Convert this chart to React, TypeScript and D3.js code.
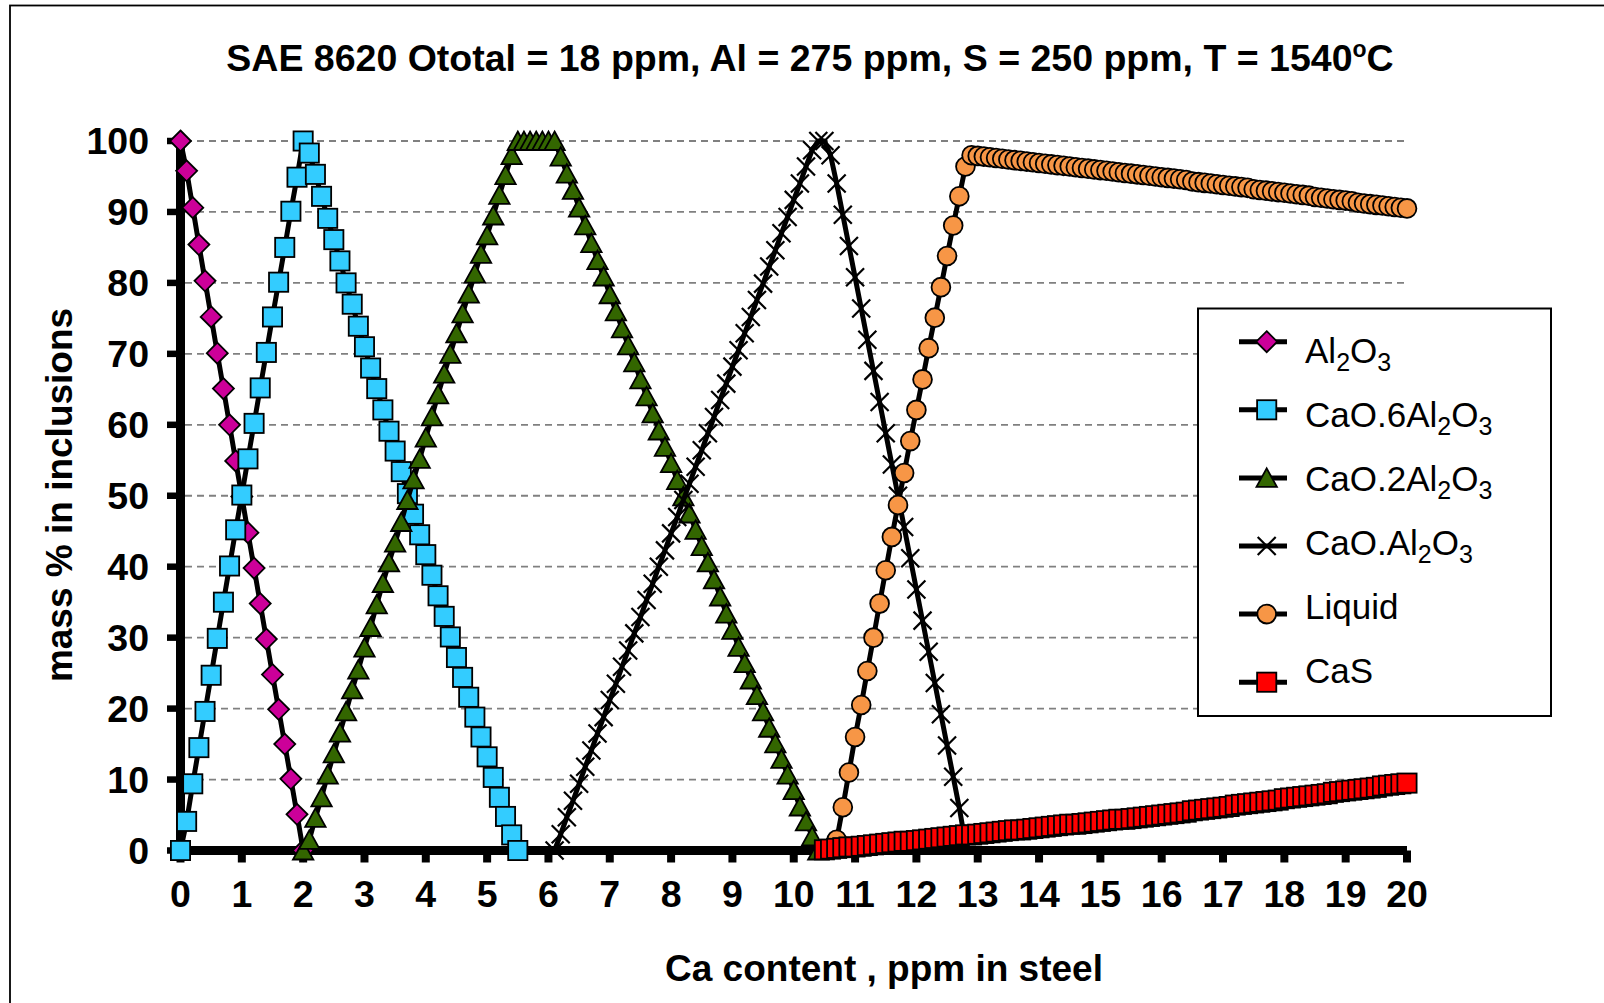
import React from 'react';
import * as d3 from 'd3';

// Ca content (ppm) steps by 0.1 for every series; each series starts at its own x
const STEP = 0.1;

const al2o3Start = 0;
const al2o3 = [100, 95.8, 90.6, 85.4, 80.3, 75.2, 70.1, 65.1, 60.0, 54.9, 49.9, 44.8, 39.8, 34.8, 29.8, 24.8, 19.9, 15.0, 10.1, 5.1, 0];

const ca6Start = 0;
const ca6 = [0, 4.1, 9.4, 14.5, 19.6, 24.7, 29.9, 35.0, 40.1, 45.2, 50.1, 55.2, 60.2, 65.2, 70.2, 75.2, 80.1, 85.0, 90.1, 94.9, 100,
  98.3, 95.3, 92.2, 89.1, 86.1, 83.1, 80.0, 77.0, 73.9, 71.0, 68.0, 65.1, 62.1, 59.1, 56.3, 53.4, 50.3, 47.4, 44.5, 41.7,
  38.8, 35.9, 33.0, 30.1, 27.2, 24.4, 21.6, 18.8, 16.0, 13.2, 10.3, 7.5, 4.8, 2.2, 0];

const ca2Start = 2.0;
const ca2 = [0, 1.5, 4.6, 7.5, 10.7, 13.7, 16.6, 19.6, 22.7, 25.5, 28.6, 31.5, 34.7, 37.7, 40.6, 43.4, 46.3, 49.4, 52.3, 55.2,
  58.2, 61.2, 64.3, 67.2, 70.0, 72.9, 75.7, 78.5, 81.3, 84.1, 86.7, 89.5, 92.4, 95.2, 98.0,
  100, 100, 100, 100, 100, 100, 100,
  97.8, 95.4, 93.1, 90.6, 88.1, 85.6, 83.2, 80.9, 78.4, 76.0, 73.6, 71.2, 68.8, 66.4, 64.0, 61.6, 59.2, 56.9, 54.6, 52.2,
  49.9, 47.5, 45.2, 42.9, 40.6, 38.2, 35.8, 33.4, 31.1, 28.7, 26.4, 24.1, 21.9, 19.6, 17.3, 15.1, 12.9, 10.7, 8.5, 6.2, 4.1, 2.0, 0];

const ca1Start = 6.1;
const ca1 = [0, 2.3, 4.7, 7.0, 9.4, 11.8, 14.1, 16.5, 18.8, 21.2, 23.5, 25.9, 28.2, 30.6, 32.9, 35.3, 37.6, 40.0, 42.3, 44.7,
  47.0, 49.4, 51.7, 54.1, 56.4, 58.8, 61.1, 63.5, 65.8, 68.2, 70.5, 72.9, 75.2, 77.6, 79.9, 82.3, 84.6, 87.0, 89.3, 91.7,
  94.0, 96.4, 98.7, 100, 100, 98.0, 94.0, 89.6, 85.2, 80.8, 76.4, 72.0, 67.6, 63.2, 58.8, 54.4, 50.0, 45.6, 41.2, 36.8,
  32.4, 28.0, 23.6, 19.2, 14.8, 10.4, 6.0, 1.0];

const liquidStart = 10.7;
const liquid = [1.5, 6.1, 11.0, 16.0, 20.5, 25.3, 30.0, 34.8, 39.5, 44.2, 48.7, 53.2, 57.7, 62.1, 66.4, 70.8, 75.1, 79.4, 83.8,
  88.1, 92.2, 96.4, 98.0,
  97.9, 97.8, 97.7, 97.6, 97.5, 97.4, 97.3, 97.2, 97.1, 97.0, 96.9, 96.8, 96.7, 96.6, 96.5, 96.4, 96.3, 96.2, 96.1, 96.0,
  95.9, 95.8, 95.7, 95.6, 95.5, 95.4, 95.3, 95.2, 95.1, 95.0, 94.9,
  94.8, 94.7, 94.6, 94.5, 94.3, 94.2, 94.1, 94.0, 93.9, 93.8, 93.7, 93.6, 93.5, 93.4, 93.2, 93.1, 93.0, 92.9, 92.8, 92.7,
  92.6, 92.5, 92.4, 92.3, 92.1, 92.0, 91.9, 91.8, 91.7, 91.6, 91.5, 91.3, 91.2, 91.1, 91.0, 90.9, 90.8, 90.7, 90.6, 90.5];

const casStart = 10.5;
const cas = [0.1, 0.2, 0.3, 0.4, 0.5, 0.5, 0.6, 0.7, 0.8, 0.9, 1.0, 1.1, 1.2, 1.3, 1.3, 1.4, 1.5, 1.6, 1.7, 1.8, 1.9, 2.0,
  2.1, 2.2, 2.2, 2.3,
  2.4, 2.5, 2.6, 2.7, 2.8, 2.9, 2.9, 3.0, 3.1, 3.2, 3.3, 3.4, 3.5, 3.6, 3.7, 3.7, 3.8, 3.9, 4.0, 4.1, 4.2, 4.3, 4.4, 4.4,
  4.5, 4.6, 4.7, 4.8, 4.9, 5.0,
  5.1, 5.2, 5.3, 5.4, 5.6, 5.7, 5.8, 5.9, 6.0, 6.1, 6.2, 6.4, 6.5, 6.6, 6.7, 6.8, 6.9, 7.0, 7.1, 7.3, 7.4, 7.5, 7.6, 7.7,
  7.8, 7.9, 8.0, 8.2, 8.3, 8.4, 8.5, 8.6, 8.7, 8.8, 8.9, 9.1, 9.2, 9.3, 9.4, 9.5];

const xTicks = d3.range(0, 21);
const yTicks = d3.range(0, 101, 10);

type Marker = 'diamond' | 'square' | 'triangle' | 'cross' | 'circle';

const series: { name: string[]; start: number; values: number[]; marker: Marker; fill: string }[] = [
  { name: ['Al', '2', 'O', '3'], start: al2o3Start, values: al2o3, marker: 'diamond', fill: '#CC0099' },
  { name: ['CaO.6Al', '2', 'O', '3'], start: ca6Start, values: ca6, marker: 'square', fill: '#33CCFF' },
  { name: ['CaO.2Al', '2', 'O', '3'], start: ca2Start, values: ca2, marker: 'triangle', fill: '#336600' },
  { name: ['CaO.Al', '2', 'O', '3'], start: ca1Start, values: ca1, marker: 'cross', fill: 'none' },
  { name: ['Liquid'], start: liquidStart, values: liquid, marker: 'circle', fill: '#F79646' },
  { name: ['CaS'], start: casStart, values: cas, marker: 'square', fill: '#FF0000' },
];

const FONT = '"Liberation Sans", Arial, Helvetica, sans-serif';

function MarkerShape({ type, cx, cy, fill }: { type: Marker; cx: number; cy: number; fill: string }) {
  const sw = 1.8;
  if (type === 'diamond') {
    return <path d={`M${cx},${cy - 10.5}L${cx + 10.5},${cy}L${cx},${cy + 10.5}L${cx - 10.5},${cy}Z`} fill={fill} stroke="#000" strokeWidth={sw} />;
  }
  if (type === 'square') {
    return <rect x={cx - 9.6} y={cy - 9.6} width={19.2} height={19.2} fill={fill} stroke="#000" strokeWidth={sw} />;
  }
  if (type === 'triangle') {
    return <path d={`M${cx},${cy - 9.5}L${cx + 10.2},${cy + 9}L${cx - 10.2},${cy + 9}Z`} fill={fill} stroke="#000" strokeWidth={sw} />;
  }
  if (type === 'cross') {
    return <path d={`M${cx - 9},${cy - 9}L${cx + 9},${cy + 9}M${cx - 9},${cy + 9}L${cx + 9},${cy - 9}`} fill="none" stroke="#000" strokeWidth={2.2} />;
  }
  return <circle cx={cx} cy={cy} r={9.4} fill={fill} stroke="#000" strokeWidth={sw} />;
}

export default function App() {
  const x = d3.scaleLinear().domain([0, 20]).range([180.5, 1407]);
  const y = d3.scaleLinear().domain([0, 100]).range([850.5, 141]);

  const line = d3.line<[number, number]>()
    .x(d => x(d[0]))
    .y(d => y(d[1]));

  const pts = (s: { start: number; values: number[] }) =>
    s.values.map((v, i) => [s.start + i * STEP, v] as [number, number]);

  const legendX = 1198;
  const legendY = 308.5;

  return (
    <svg width={1604} height={1003} style={{ position: 'absolute', left: 0, top: 0, display: 'block', background: '#fff' }}
      fontFamily={FONT}>
      <rect x={10} y={5.5} width={1610} height={1020} fill="#fff" stroke="#000" strokeWidth={1.8} />

      <text x={810} y={71} textAnchor="middle" fontSize={37.5} fontWeight="bold">
        SAE 8620 Ototal = 18 ppm, Al = 275 ppm, S = 250 ppm, T = 1540
        <tspan fontSize={23} dy={-14}>o</tspan>
        <tspan dy={14}>C</tspan>
      </text>

      {/* gridlines */}
      {yTicks.filter(t => t > 0).map(t => (
        <line key={t} x1={185} x2={x(20)} y1={y(t)} y2={y(t)} stroke="#808080" strokeWidth={1.8} strokeDasharray="7,5" />
      ))}

      {/* axes */}
      <line x1={x(0)} x2={x(0)} y1={y(100)} y2={y(0) + 4} stroke="#000" strokeWidth={9} />
      <line x1={x(0) - 4} x2={x(20)} y1={y(0)} y2={y(0)} stroke="#000" strokeWidth={9} />
      {yTicks.map(t => (
        <line key={t} x1={167} x2={x(0)} y1={y(t)} y2={y(t)} stroke="#000" strokeWidth={6.5} />
      ))}
      {xTicks.map(t => (
        <line key={t} x1={x(t)} x2={x(t)} y1={y(0)} y2={y(0) + 12} stroke="#000" strokeWidth={8} />
      ))}
      {yTicks.map(t => (
        <text key={t} x={149} y={y(t) + 13} textAnchor="end" fontSize={37.5} fontWeight="bold">{t}</text>
      ))}
      {xTicks.map(t => (
        <text key={t} x={x(t)} y={907} textAnchor="middle" fontSize={37.5} fontWeight="bold">{t}</text>
      ))}

      <text transform="translate(72,495) rotate(-90)" textAnchor="middle" fontSize={37} fontWeight="bold">mass % in inclusions</text>
      <text x={884} y={981} textAnchor="middle" fontSize={37} fontWeight="bold">Ca content , ppm in steel</text>

      {/* series */}
      {series.map((s, si) => {
        const p = pts(s);
        return (
          <g key={si}>
            <path d={line(p) || ''} fill="none" stroke="#000" strokeWidth={5} strokeLinejoin="round" strokeLinecap="round" />
            {p.map((d, i) => (
              <MarkerShape key={i} type={s.marker} cx={x(d[0])} cy={y(d[1])} fill={s.fill} />
            ))}
          </g>
        );
      })}

      {/* legend */}
      <rect x={legendX} y={legendY} width={353} height={407.5} fill="#fff" stroke="#000" strokeWidth={2} />
      {series.map((s, i) => {
        const my = 341.7 + i * 68.1;
        const ty = 362.7 + i * 64.1;
        return (
          <g key={i}>
            <line x1={1239} x2={1287} y1={my} y2={my} stroke="#000" strokeWidth={5} />
            <MarkerShape type={s.marker} cx={1266.7} cy={my} fill={s.fill} />
            <text x={1305} y={ty} fontSize={35}>
              {s.name.map((part, k) => {
                const sub = k % 2 === 1;
                const prevSub = k > 0 && (k - 1) % 2 === 1;
                return (
                  <tspan key={k} fontSize={sub ? 25 : 35} dy={sub ? 8 : prevSub ? -8 : 0}>{part}</tspan>
                );
              })}
            </text>
          </g>
        );
      })}
    </svg>
  );
}
